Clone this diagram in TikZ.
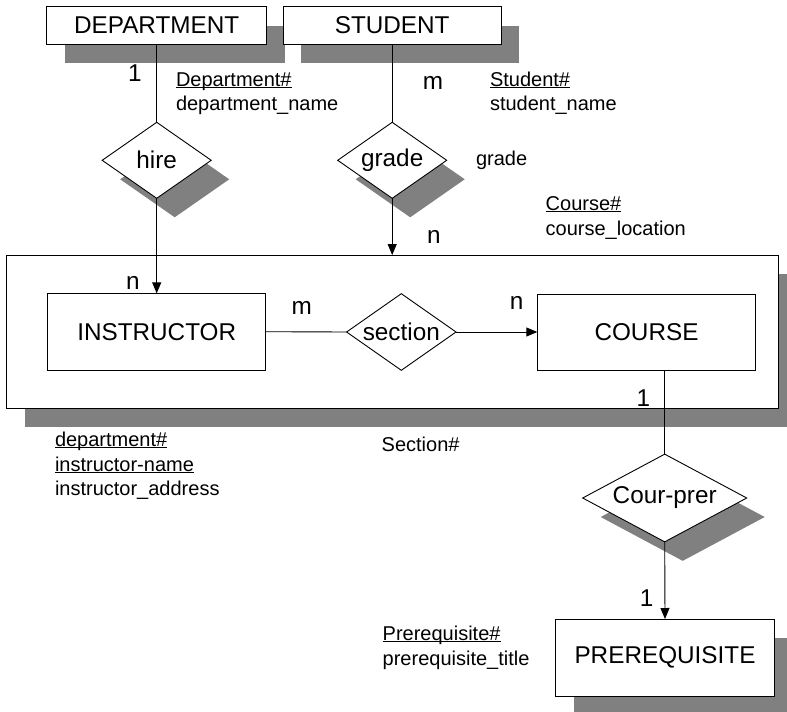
\documentclass[tikz,border=0pt]{standalone}
\usepackage{fontspec}
\setmainfont{Liberation Sans}
\usetikzlibrary{shapes.geometric,shadows,arrows.meta}
\definecolor{shadowgray}{RGB}{128,128,128}
% key attribute: text with a thin rule just under the baseline
\newcommand\attrkey[1]{\setbox0=\hbox{#1}\rlap{\rule[-2.2pt]{\wd0}{0.9pt}}\box0}
\begin{document}
\begin{tikzpicture}[x=1pt,y=-1pt,
  every node/.style={inner sep=0pt, outer sep=0pt},
  lbl/.style={font=\fontsize{24.3}{29}\selectfont},
  attr/.style={font=\fontsize{20}{24}\selectfont, anchor=base west},
  card/.style={lbl},
  shadowed/.style={drop shadow={shadow xshift=18pt, shadow yshift=-19pt,
                                fill=shadowgray, opacity=1}},
  entity/.style={draw, fill=white, line width=0.9pt, lbl, rectangle},
  relation/.style={draw, fill=white, line width=0.9pt, lbl, diamond, aspect=1.43},
  link/.style={line width=0.9pt},
  arrowlink/.style={link, -{Triangle[length=11pt,width=9pt]}}]
\useasboundingbox (0,0) rectangle (787,712);

% entities and relationships
\node[entity, shadowed, minimum width=220pt, minimum height=37.6pt] (dept) at (156.7,25.5) {DEPARTMENT};
\node[entity, shadowed, minimum width=217.7pt, minimum height=37.6pt] (stud) at (392.2,25.5) {STUDENT};
\node[relation, shadowed, minimum width=109pt, minimum height=76pt] (hire) at (156.7,160.3) {hire};
\node[relation, shadowed, minimum width=109pt, minimum height=76pt] (grade) at (392.2,160.3) {grade};
\node[entity, shadowed, minimum width=771.6pt, minimum height=153.3pt] (agg) at (392.5,331.7) {};
\node[entity, minimum width=218pt, minimum height=76.7pt] (instr) at (156.7,331.7) {INSTRUCTOR};
\node[relation, minimum width=109.4pt, minimum height=76.6pt] (sect) at (401.3,332) {section};
\node[entity, minimum width=218.4pt, minimum height=76pt] (course) at (646.5,332) {COURSE};
\node[relation, shadowed, aspect=1.87, minimum width=164pt, minimum height=87.7pt] (cp) at (664.7,498) {Cour-prer};
\node[entity, shadowed, minimum width=218.3pt, minimum height=77pt] (prereq) at (665,657.5) {PREREQUISITE};

% connectors
\draw[link] (dept.south) -- (hire.north);
\draw[link] (stud.south) -- (grade.north);
\draw[arrowlink] (hire.south) -- (instr.north);
\draw[arrowlink] (grade.south) -- (grade.south |- agg.north);
\draw[link] (instr.east) -- (sect.west);
\draw[arrowlink] (sect.east) -- (course.west);
\draw[link] (cp.north |- course.south) -- (cp.north);
\draw[arrowlink] (cp.south) -- (prereq.north);

% cardinalities
\node[card] (c-dept) at (135,73) {1};
\node[card] (c-stud) at (433,83) {m};
\node[card] (c-grade) at (434,237) {n};
\node[card] (c-instr) at (133,283) {n};
\node[card] (c-sect-l) at (301.7,308) {m};
\node[card] (c-sect-r) at (516.7,303) {n};
\node[card] (c-course) at (643.3,398) {1};
\node[card] (c-prereq) at (646.7,598) {1};

% attributes
\node[attr] (depkey) at (176,86) {\attrkey{Department\#}};
\node[attr] (depname) at (176,110) {department\_name};
\node[attr] (studkey) at (490,86) {\attrkey{Student\#}};
\node[attr] (studname) at (490,110.5) {student\_name};
\node[attr] (gradeattr) at (476,165) {grade};
\node[attr] (coursekey) at (545.7,210) {\attrkey{Course\#}};
\node[attr] (courseloc) at (545.7,235) {course\_location};
\node[attr] (instkey1) at (55,446) {\attrkey{department\#}};
\node[attr] (instkey2) at (55,471) {\attrkey{instructor-name}};
\node[attr] (instaddr) at (55,495.5) {instructor\_address};
\node[attr] (sectkey) at (381.7,451) {Section\#};
\node[attr] (prekey) at (382.7,640) {\attrkey{Prerequisite\#}};
\node[attr] (pretitle) at (382.7,665) {prerequisite\_title};
\end{tikzpicture}
\end{document}
